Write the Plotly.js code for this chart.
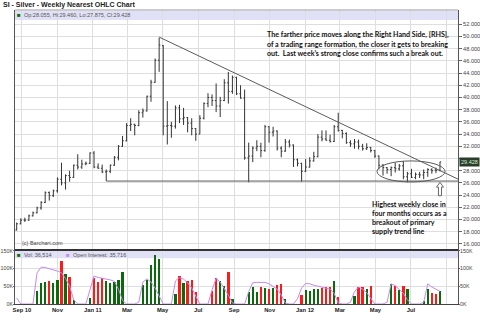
<!DOCTYPE html>
<html><head><meta charset="utf-8">
<script src="https://cdn.plot.ly/plotly-3.0.1.min.js"></script>
<style>html,body{margin:0;padding:0;background:#fff}#chart{width:480px;height:326px}</style>
</head><body><div id="chart"></div>
<script>
// ---- data (weekly, nearest silver futures) ----
const firstWeek = '2010-08-23';
const opens  = [18.3,19.3,19.9,19.9,20.6,21.1,21.9,22.8,24.4,23.9,24.7,26.6,26.0,27.2,26.9,28.9,28.6,29.1,29.2,30.9,28.6,28.4,27.8,27.9,28.9,30.2,32.0,32.9,35.4,35.6,35.4,37.5,37.8,40.2,42.5,46.1,48.5,35.3,35.4,35.3,38.3,36.5,36.7,35.8,34.9,34.0,36.6,39.0,40.0,39.5,38.6,39.5,42.4,41.0,43.3,40.6,39.9,30.1,30.4,31.7,32.0,31.3,35.2,34.3,34.5,31.7,31.2,32.7,32.2,29.8,29.2,27.9,28.6,29.6,30.3,33.5,33.2,33.0,32.8,35.2,34.6,34.1,32.6,32.4,32.7,32.0,31.6,31.8,31.3,30.4,28.9,28.5,28.2,28.5,28.3,28.8,27.0,27.5,26.9,27.4,27.3,27.7,28.2,28.1,28.055];
const highs  = [19.5,20.2,20.3,20.8,21.3,22.1,23.0,24.6,24.6,24.9,26.9,29.3,27.4,28.0,29.0,30.7,29.8,29.5,31.0,31.2,29.2,29.0,28.2,29.0,30.4,32.2,33.7,35.8,36.6,35.7,37.9,38.2,40.3,42.9,46.4,49.8,48.6,39.4,36.0,38.7,38.8,38.3,36.8,36.6,35.0,37.1,39.2,40.7,40.5,42.3,40.1,43.0,44.2,43.6,43.4,42.0,41.3,32.6,32.0,33.0,32.6,35.5,35.3,35.2,34.6,32.0,33.2,33.1,32.3,30.0,29.3,29.9,30.2,31.1,34.0,34.6,34.6,33.9,35.5,37.5,34.7,34.3,33.0,33.2,33.1,32.4,32.5,31.9,31.4,30.5,29.1,28.6,28.7,29.3,29.1,29.6,27.8,28.3,27.7,27.8,28.2,28.4,28.4,28.5,29.46];
const lows   = [18.2,19.2,19.6,19.8,20.5,21.0,21.6,22.7,23.1,23.7,24.4,25.6,24.9,26.2,26.8,28.2,28.3,28.9,29.1,28.4,28.3,27.6,26.3,27.6,28.8,29.7,31.9,32.8,34.5,33.8,35.3,36.7,37.7,39.3,42.4,44.2,33.8,32.3,33.4,34.9,35.8,35.5,34.3,33.8,32.9,34.0,36.4,38.4,38.6,37.6,36.8,39.4,39.0,40.6,40.4,39.8,29.8,26.1,29.4,31.2,30.2,31.1,32.6,33.6,31.3,30.2,31.1,31.8,28.6,28.7,26.2,27.8,28.5,29.5,30.2,32.8,32.9,32.6,32.7,34.4,33.3,32.4,31.9,31.6,31.5,31.3,31.4,31.0,30.1,28.2,27.2,27.5,27.1,27.7,28.0,26.6,26.1,26.8,26.6,26.8,26.6,27.0,27.5,27.6,27.875];
const closes = [19.3,19.9,19.9,20.6,21.1,21.9,22.8,24.4,23.9,24.7,26.6,26.0,27.2,26.9,28.9,28.6,29.1,29.2,30.9,28.6,28.4,27.8,27.9,28.9,30.2,32.0,32.9,35.4,35.6,35.4,37.5,37.8,40.2,42.5,46.1,48.6,35.3,35.4,35.3,38.3,36.5,36.7,35.8,34.9,34.0,36.6,39.0,40.0,39.5,38.6,39.5,42.4,41.0,43.3,40.6,39.9,30.1,30.4,31.7,32.0,31.3,35.2,34.3,34.5,31.7,31.2,32.7,32.2,29.8,29.2,27.9,28.6,29.6,30.3,33.5,33.2,33.0,32.8,35.2,34.6,34.1,32.6,32.4,32.7,32.0,31.6,31.8,31.3,30.4,28.9,28.5,28.2,28.5,28.3,28.8,27.0,27.5,26.9,27.4,27.3,27.7,28.2,28.0,28.055,29.428];
const volumeK = [0,0,0,0,0, 38,59,61,66,59,69,122,85,77,12, 0,0,0, 16,73,61,74,66,60,61,69,89, 0,0,0,0, 53,68,110,138,127, 0,0,0, 28,78,58,64,68,35, 0,0,0, 38,74,65,50,91,14, 0,0,0, 33,48,33,48,44,41,45,53,57,13, 0,0,0, 26,39,38,41,41,46,49,47,66,21, 0,0,0, 22,49,47,42,50, 0,0,0,0, 57,52,40,51,43, 0,0,0, 9,41,31,29,36.514];
const openInterestK = [17,0,0,0,0, 88,104,103,100,97,93,88,72,50,12, 0,0,0, 40,79,75,73,71,68,64,42,10, 0,0,0,5, 62,71,62,45,20, 0,0,0, 65,75,70,60,45,20, 0,0,0, 40,72,62,45,25,3, 0,0,0, 35,60,61,61,61,57,50,42,25,3, 0,0,15, 45,58,57,53,50,47,45,42,30,3, 0,0,5, 35,48,42,32,15, 0,0,0,5, 57,52,42,30,12, 0,0,0, 5,57,48,42,35.716];
const monthTicks  = ['2010-09-01','2010-11-01','2011-01-01','2011-03-01','2011-05-01','2011-07-01','2011-09-01','2011-11-01','2012-01-01','2012-03-01','2012-05-01','2012-07-01','2012-09-01'];
const monthLabels = ['Sep 10','Nov','Jan 11','Mar','May','Jul','Sep','Nov','Jan 12','Mar','May','Jul',''];
const priceTicks = [16,18,20,22,24,26,28,30,32,34,36,38,40,42,44,46,48,50,52];
const volTicks = [0,50000,100000,150000];
const volTickText = ['0K','50K','100K','150K'];
// annotation geometry (data units)
const trendStart = ['2011-04-25', 49.9], trendEnd = ['2012-09-20', 26.62];
const supportStart = ['2011-01-24', 26.3], supportEnd = ['2012-09-20', 26.3];
const ellipseBox = {x0:'2012-05-03 17:00', x1:'2012-08-28 17:00', y0:26.15, y1:29.6};

// ---- build ----
const DAY = 86400000;
const t0 = Date.parse(firstWeek + 'T00:00:00Z');
const dates = opens.map((_, i) => new Date(t0 + i*7*DAY).toISOString().slice(0,10));
const volColors = closes.map((c, i) => c >= opens[i] ? '#0b6a0b' : '#ff1a1a');
const last = opens.length - 1;
const fmtD = ms => new Date(ms).toISOString().slice(0,19).replace('T','_');
const aT = Date.parse(dates[last] + 'T00:00:00Z');
const ax = d => fmtD(aT + d*DAY);
const arrowPath = `M${ax(-2.6)},23.9 L${ax(-2.6)},25.3 L${ax(-6)},25.3 L${ax(0)},26.1 L${ax(6)},25.3 L${ax(2.6)},25.3 L${ax(2.6)},23.9 Z`;

const FONT = 'Liberation Sans, Arial, sans-serif';
const NOTE = 'Lato, sans-serif';
const px = x => (x - 15) / 443;
const py = y => (304 - y) / 294;
const fmt3 = v => v.toFixed(3);
const fmtInt = v => Math.round(v*1000).toLocaleString('en-US');
// price labels: the one hidden behind the last-close marker is left blank
const priceTickText = priceTicks.map(v => Math.abs(v - closes[last]) < 1.2 ? '' : fmt3(v));

const traces = [
  {type:'ohlc', x:dates, open:opens, high:highs, low:lows, close:closes, xaxis:'x', yaxis:'y',
   increasing:{line:{color:'#333', width:1}}, decreasing:{line:{color:'#333', width:1}},
   tickwidth:0.3, hoverinfo:'skip'},
  {type:'bar', x:dates, y:volumeK.map(v=>v*1000), xaxis:'x', yaxis:'y2',
   marker:{color:volColors, line:{width:0}}, width:4*DAY, hoverinfo:'skip'},
  {type:'scatter', mode:'lines', x:dates, y:openInterestK.map(v=>v*1000), xaxis:'x', yaxis:'y3',
   line:{color:'#c58af0', width:1}, hoverinfo:'skip'}
];

const noteFont = {family:NOTE, size:7.1, color:'#111', weight:'bold'};
const notes = [
  {t:'SI - Silver - Weekly Nearest OHLC Chart', x:2, y:5, f:{family:FONT,size:7,color:'#222',weight:'bold'}},
  {t:'■', x:16, y:15.5, f:{family:FONT,size:6,color:'#0b6a0b'}},
  {t:`Op:${fmt3(opens[last])}, Hi:${fmt3(highs[last])}, Lo:${fmt3(lows[last])}, Cl:${fmt3(closes[last])}`, x:23, y:15.5, f:{family:FONT,size:5.5,color:'#555'}},
  {t:'(c) Barchart.com', x:21, y:243.5, f:{family:FONT,size:5.5,color:'#444'}},
  {t:'■', x:16, y:254.7, f:{family:FONT,size:6,color:'#0b6a0b'}},
  {t:`Vol: ${fmtInt(volumeK[last])}`, x:23, y:254.7, f:{family:FONT,size:5.5,color:'#555'}},
  {t:'■', x:65, y:254.7, f:{family:FONT,size:6,color:'#c58af0'}},
  {t:`Open Interest: ${fmtInt(openInterestK[last])}`, x:72, y:254.7, f:{family:FONT,size:5.5,color:'#555'}},
  {t:'The farther price moves along the Right Hand Side, [RHS],', x:265.5, y:34.3, f:noteFont},
  {t:'of a trading range formation, the closer it gets to breaking', x:265.5, y:44.2, f:noteFont},
  {t:'out.  Last week\u2019s strong close confirms such a break out.', x:265.5, y:53.8, f:noteFont},
  {t:'Highest weekly close in', x:371, y:204.3, f:noteFont},
  {t:'four months occurs as a', x:371, y:213.3, f:noteFont},
  {t:'breakout of primary', x:371, y:222.5, f:noteFont},
  {t:'supply trend line', x:371, y:231.7, f:noteFont}
];
const annotations = notes.map(n => ({text:n.t, xref:'paper', yref:'paper', x:px(n.x), y:py(n.y),
  xanchor:'left', yanchor:'middle', showarrow:false, font:n.f, align:'left', borderpad:0}));
annotations.push({text:fmt3(closes[last]), xref:'paper', yref:'y', x:1, y:closes[last], xanchor:'left', yanchor:'middle',
  xshift:1, showarrow:false, bgcolor:'#2a3d2a', font:{family:FONT,size:5.5,color:'#d8f0d8'}, borderpad:1});

const gridC = '#dedede';
const volAxis = {range:[0,152500], tickvals:volTicks, ticktext:volTickText, ticks:'outside', ticklen:1,
  tickcolor:'#666', zeroline:false, showline:true, linecolor:'#555', ticklabelstandoff:-1,
  tickfont:{family:FONT, size:5.3, color:'#444'}};
const layout = {
  width:480, height:326, margin:{l:15, r:22, t:10, b:22},
  paper_bgcolor:'#fff', plot_bgcolor:'#fff', showlegend:false, bargap:0,
  xaxis:{type:'date', anchor:'y2', range:['2010-08-20 02:00','2012-09-20'], tickvals:monthTicks, ticktext:monthLabels,
    ticks:'', showgrid:true, gridcolor:gridC, gridwidth:1, zeroline:false, showline:true, linecolor:'#444',
    tickfont:{family:FONT, size:5.8, color:'#222', weight:'bold'}, rangeslider:{visible:false}, fixedrange:true},
  yaxis:{domain:[0.18367,1], range:[15.0,54.34], side:'right', tickvals:priceTicks, ticktext:priceTickText,
    ticks:'outside', ticklen:3, tickcolor:'#666', showgrid:true, gridcolor:gridC, zeroline:false,
    showline:true, linecolor:'#555', mirror:true, tickfont:{family:FONT, size:5.6, color:'#444'}},
  yaxis2:Object.assign({domain:[0,0.18367], side:'left', showgrid:true, gridcolor:gridC}, volAxis),
  yaxis3:Object.assign({overlaying:'y2', side:'right', showgrid:false}, volAxis),
  shapes:[
    {type:'rect', xref:'paper', yref:'y domain', x0:0, x1:1, y0:0.958, y1:0.996, fillcolor:'#e0e0f6', line:{width:0}, layer:'below'},
    {type:'rect', xref:'paper', yref:'y2 domain', x0:0, x1:1, y0:0.846, y1:0.981, fillcolor:'#e0e0f6', line:{width:0}, layer:'below'},
    {type:'line', xref:'paper', yref:'y domain', x0:0, x1:1, y0:1, y1:1, line:{color:'#999', width:1}},
    {type:'line', xref:'paper', yref:'y domain', x0:0, x1:1, y0:0, y1:0, line:{color:'#333', width:2}},
    {type:'line', xref:'x', yref:'y', x0:trendStart[0], y0:trendStart[1], x1:trendEnd[0], y1:trendEnd[1], line:{color:'#5a5a5a', width:1}},
    {type:'line', xref:'x', yref:'y', x0:supportStart[0], y0:supportStart[1], x1:supportEnd[0], y1:supportEnd[1], line:{color:'#5a5a5a', width:1}},
    {type:'circle', xref:'x', yref:'y', x0:ellipseBox.x0, x1:ellipseBox.x1, y0:ellipseBox.y0, y1:ellipseBox.y1, line:{color:'#5a5a5a', width:1}},
    {type:'path', xref:'x', yref:'y', path:arrowPath, fillcolor:'#fff', line:{color:'#666', width:1}}
  ],
  annotations
};
Plotly.newPlot('chart', traces, layout, {staticPlot:true, displayModeBar:false});
</script></body></html>
